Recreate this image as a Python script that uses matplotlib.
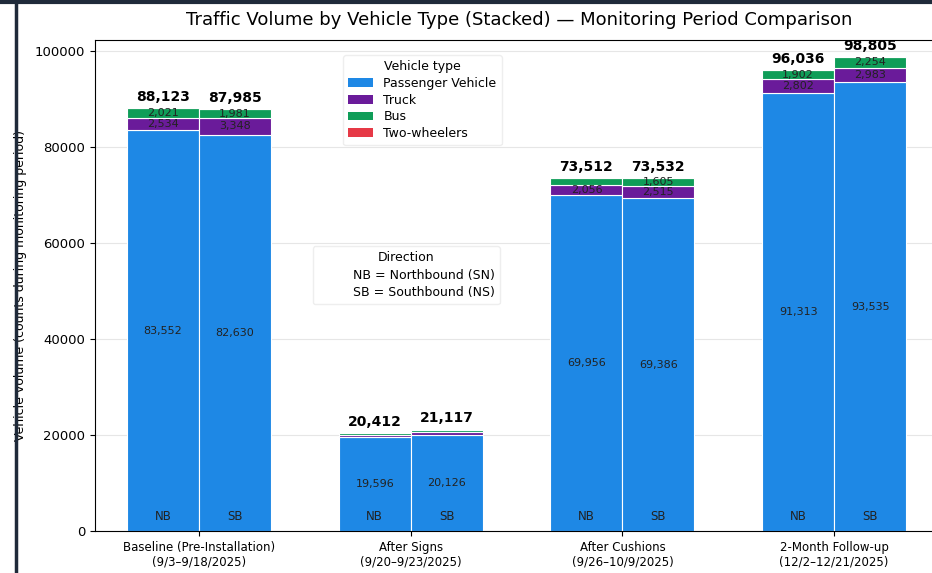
import matplotlib
matplotlib.use('Agg')
import matplotlib.pyplot as plt
from matplotlib.lines import Line2D
from matplotlib.patches import Patch
import numpy as np

# data
periods = ['Baseline (Pre-Installation)\n(9/3\u20139/18/2025)',
           'After Signs\n(9/20\u20139/23/2025)',
           'After Cushions\n(9/26\u201310/9/2025)',
           '2-Month Follow-up\n(12/2\u201312/21/2025)']
directions = ['NB', 'SB']
vehicle_types = ['Passenger Vehicle', 'Truck', 'Bus', 'Two-wheelers']

passenger_nb = [83552, 19596, 69956, 91313]
passenger_sb = [82630, 20126, 69386, 93535]
truck_nb = [2534, 450, 2056, 2802]
truck_sb = [3348, 560, 2515, 2983]
bus_nb = [2021, 350, 1480, 1902]
bus_sb = [1981, 410, 1605, 2254]
twowheel_nb = [16, 16, 20, 19]
twowheel_sb = [26, 21, 26, 33]

colors = ['#1e88e5', '#6a1b9a', '#0f9d58', '#e63946']

fig = plt.figure(figsize=(9.32, 5.73), dpi=100)
ax = fig.add_axes([0.102, 0.073, 0.91, 0.857])

x = np.arange(len(periods))
width = 0.34
ymax = 102300

stacks = {
    'NB': [passenger_nb, truck_nb, bus_nb, twowheel_nb],
    'SB': [passenger_sb, truck_sb, bus_sb, twowheel_sb],
}

for d, off in zip(directions, [-width / 2, width / 2]):
    series = stacks[d]
    bottom = np.zeros(len(periods))
    for i, (vals, col) in enumerate(zip(series, colors)):
        vals = np.array(vals, dtype=float)
        ax.bar(x + off, vals, width, bottom=bottom, color=col,
               edgecolor='white', linewidth=0.8, zorder=2)
        for xi, v, b in zip(x, vals, bottom):
            # passenger always labelled, small segments only when big enough
            if i == 0 or v >= 1500:
                ax.text(xi + off, b + v / 2, f'{int(v):,}', ha='center',
                        va='center', fontsize=8, color='#222222', zorder=3)
        bottom = bottom + vals
    for xi, tot in zip(x, bottom):
        ax.text(xi + off, tot + 900, f'{int(tot):,}', ha='center', va='bottom',
                fontsize=10, fontweight='bold', zorder=3)
        ax.text(xi + off, 3000, d, ha='center', va='center', fontsize=8.5,
                color='#222222', zorder=3)

ax.set_xlim(-0.491, 3.515)
ax.set_ylim(0, ymax)
ax.set_xticks(x)
ax.set_xticklabels(periods, fontsize=8.5)
ax.tick_params(axis='y', labelsize=9.5)
ax.yaxis.grid(True, color='#e6e6e6', linewidth=0.8, zorder=0)
ax.set_axisbelow(True)
ax.set_ylabel('Vehicle volume (counts during monitoring period)', fontsize=9,
              labelpad=6)
ax.set_title('Traffic Volume by Vehicle Type (Stacked) \u2014 Monitoring Period Comparison',
             fontsize=13, pad=11)

handles = [Patch(facecolor=c) for c in colors]
leg1 = ax.legend(handles, vehicle_types, title='Vehicle type', loc='center',
                 bbox_to_anchor=(0.386, 0.878), fontsize=9, title_fontsize=9,
                 labelspacing=0.3, frameon=True, edgecolor='#eeeeee',
                 framealpha=1)
ax.add_artist(leg1)

blank = [Line2D([], [], alpha=0), Line2D([], [], alpha=0)]
leg2 = ax.legend(blank, ['NB = Northbound (SN)', 'SB = Southbound (NS)'],
                 title='Direction', loc='center', bbox_to_anchor=(0.367, 0.521),
                 fontsize=9, title_fontsize=9, labelspacing=0.35, frameon=True,
                 edgecolor='#eeeeee', framealpha=1)

# dark frame of the screenshot on the left and top
fig.add_artist(Line2D([0.017, 0.017], [0, 1], color='#1f2a3a', linewidth=2.5))
fig.add_artist(Line2D([0, 1], [0.997, 0.997], color='#1f2a3a', linewidth=3))

fig.savefig('out.png', dpi=100)
